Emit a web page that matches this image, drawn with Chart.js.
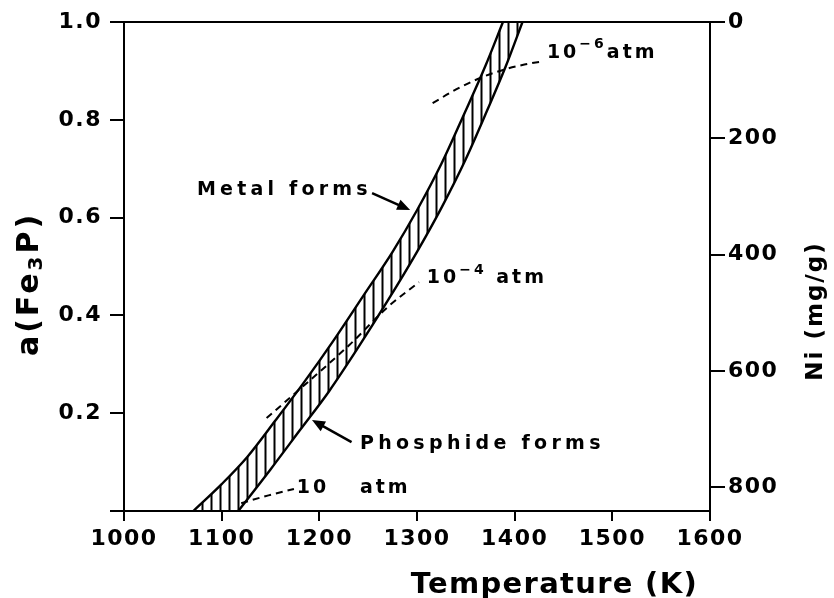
<!DOCTYPE html>
<html>
<head>
<meta charset="utf-8">
<script src="https://cdn.jsdelivr.net/npm/chart.js@4.4.1/dist/chart.umd.min.js"></script>
<style>
  html, body { margin: 0; padding: 0; background: #fff; }
  #wrap { width: 834px; height: 598px; position: relative; }
</style>
</head>
<body>
<div id="wrap"><canvas id="fe3pChart"></canvas></div>
<script>
// left edge of the hatched band (metal forms)
const metalT = [1071, 1100, 1126, 1155, 1185, 1215, 1245, 1275, 1300, 1325, 1349, 1370, 1388];
const metalA = [0, 0.055, 0.11, 0.185, 0.265, 0.35, 0.44, 0.53, 0.615, 0.71, 0.815, 0.91, 1.0];
// right edge of the band (phosphide forms)
const phosT = [1117, 1150, 1180, 1210, 1240, 1270, 1300, 1325, 1350, 1372, 1391, 1408];
const phosA = [0, 0.085, 0.165, 0.245, 0.335, 0.43, 0.53, 0.62, 0.72, 0.82, 0.91, 1.0];
// dashed pressure lines
const p10T = [1120, 1148, 1174];
const p10A = [0.016, 0.032, 0.045];
const p4T = [1146, 1173, 1231, 1270, 1302];
const p4A = [0.19, 0.237, 0.34, 0.417, 0.468];
const p6T = [1316, 1340, 1364, 1388, 1410, 1430];
const p6A = [0.834, 0.862, 0.885, 0.902, 0.913, 0.92];

const tempTicks = [1000, 1100, 1200, 1300, 1400, 1500, 1600];
const actTicks = [0, 0.2, 0.4, 0.6, 0.8, 1.0];
const niTicks = [0, 200, 400, 600, 800];
const niMax = 841;

const FONT = '"DejaVu Sans", sans-serif';

function pts(xs, ys) {
    return xs.map((x, i) => ({ x: x, y: ys[i] }));
}

function hatchPattern() {
    const c = document.createElement('canvas');
    c.width = 9; c.height = 9;
    const g = c.getContext('2d');
    g.strokeStyle = '#000';
    g.lineWidth = 2;
    g.beginPath(); g.moveTo(4.5, 0); g.lineTo(4.5, 9); g.stroke();
    return g.createPattern(c, 'repeat');
}

// draw text pieces one after another: [text, size, dy]
function runs(ctx, x, y, parts, spacing) {
    ctx.letterSpacing = spacing + 'px';
    parts.forEach(function(p) {
        ctx.font = 'bold ' + p[1] + 'px ' + FONT;
        ctx.fillText(p[0], x, y + p[2]);
        x += ctx.measureText(p[0]).width;
    });
}

function runsWidth(ctx, parts, spacing) {
    ctx.letterSpacing = spacing + 'px';
    let w = 0;
    parts.forEach(function(p) {
        ctx.font = 'bold ' + p[1] + 'px ' + FONT;
        w += ctx.measureText(p[0]).width;
    });
    return w;
}

function arrow(ctx, x0, y0, x1, y1) {
    const ang = Math.atan2(y1 - y0, x1 - x0), h = 13, w = 5.5;
    const c = Math.cos(ang), s = Math.sin(ang);
    ctx.beginPath();
    ctx.moveTo(x0, y0);
    ctx.lineTo(x1 - h * 0.8 * c, y1 - h * 0.8 * s);
    ctx.stroke();
    ctx.beginPath();
    ctx.moveTo(x1, y1);
    ctx.lineTo(x1 - h * c + w * s, y1 - h * s - w * c);
    ctx.lineTo(x1 - h * c - w * s, y1 - h * s + w * c);
    ctx.closePath();
    ctx.fill();
}

const annotate = {
    id: 'annotate',
    beforeDraw(chart) {
        chart.ctx.letterSpacing = '1.5px';
    },
    afterDraw(chart) {
        const ctx = chart.ctx, a = chart.chartArea;
        const X = v => chart.scales.x.getPixelForValue(v);
        const Y = v => chart.scales.y.getPixelForValue(v);
        ctx.save();
        ctx.strokeStyle = '#000';
        ctx.fillStyle = '#000';

        // top of the frame
        ctx.lineWidth = 2;
        ctx.beginPath(); ctx.moveTo(a.left, a.top); ctx.lineTo(a.right, a.top); ctx.stroke();

        // labels inside the plot
        ctx.textAlign = 'left';
        ctx.textBaseline = 'middle';
        runs(ctx, X(1074.7), Y(0.656), [['Metal forms', 19, 0]], 4.2);
        runs(ctx, X(1241.6), Y(0.137), [['Phosphide forms', 19, 0]], 4.3);
        runs(ctx, X(1310), Y(0.476), [['10', 19, 0], ['\u2212', 14, -8], ['4', 14, -8], [' atm', 19, 0]], 3);
        runs(ctx, X(1433), Y(0.937), [['10', 19, 0], ['\u2212', 14, -8], ['6', 14, -8], ['atm', 19, 0]], 3);
        runs(ctx, X(1177), Y(0.047), [['10', 19, 0]], 3);
        runs(ctx, X(1241.6), Y(0.047), [['atm', 19, 0]], 3);

        ctx.lineWidth = 2.5;
        arrow(ctx, X(1254), Y(0.65), X(1293), Y(0.6155));
        arrow(ctx, X(1233), Y(0.141), X(1192.5), Y(0.186));

        // axis titles
        ctx.textBaseline = 'alphabetic';
        ctx.textAlign = 'right';
        runs(ctx, a.right - 12, a.bottom + 82, [['Temperature (K)', 29, 0]], 1.3);

        ctx.textAlign = 'left';
        ctx.textBaseline = 'middle';
        const left = [['a(Fe', 30, 0], ['3', 20, 7], ['P)', 30, 0]];
        ctx.save();
        ctx.translate(30, 284);
        ctx.rotate(-Math.PI / 2);
        runs(ctx, -runsWidth(ctx, left, 3) / 2, 0, left, 3);
        ctx.restore();

        const right = [['Ni (mg/g)', 23, 0]];
        ctx.save();
        ctx.translate(816, 311);
        ctx.rotate(-Math.PI / 2);
        runs(ctx, -runsWidth(ctx, right, 2) / 2, 0, right, 2);
        ctx.restore();

        ctx.restore();
    }
};

document.addEventListener('DOMContentLoaded', function() {
    const band = pts(metalT, metalA).concat(pts(phosT, phosA).reverse());
    const lineStyle = {
        showLine: true, pointRadius: 0, borderColor: '#000', borderWidth: 2.4,
        fill: false, cubicInterpolationMode: 'monotone', order: 0
    };
    const dashStyle = Object.assign({}, lineStyle, { borderWidth: 2, borderDash: [7, 5] });
    const tickFont = { family: FONT, weight: 'bold', size: 22 };

    const ctx = document.getElementById('fe3pChart').getContext('2d');
    new Chart(ctx, {
        type: 'scatter',
        data: {
            datasets: [
                { label: 'band', data: band, showLine: true, pointRadius: 0, borderWidth: 0,
                  tension: 0, fill: 'shape', backgroundColor: hatchPattern(), order: 5 },
                Object.assign({ label: 'Metal forms', data: pts(metalT, metalA) }, lineStyle),
                Object.assign({ label: 'Phosphide forms', data: pts(phosT, phosA) }, lineStyle),
                Object.assign({ label: '10 atm', data: pts(p10T, p10A) }, dashStyle),
                Object.assign({ label: '1e-4 atm', data: pts(p4T, p4A) }, dashStyle),
                Object.assign({ label: '1e-6 atm', data: pts(p6T, p6A) }, dashStyle)
            ]
        },
        options: {
            responsive: true,
            maintainAspectRatio: false,
            animation: false,
            layout: { padding: { top: 22, left: 0, right: 0, bottom: 0 } },
            plugins: {
                legend: { display: false },
                tooltip: { enabled: false }
            },
            scales: {
                x: {
                    type: 'linear', min: 1000, max: 1600,
                    afterBuildTicks: s => { s.ticks = tempTicks.map(v => ({ value: v })); },
                    afterFit: s => { s.height = 87; },
                    border: { color: '#000', width: 2 },
                    grid: { drawOnChartArea: false, color: '#000', lineWidth: 2, tickLength: 10 },
                    ticks: { color: '#000', font: tickFont, padding: 5, maxRotation: 0,
                             callback: v => String(v) }
                },
                y: {
                    type: 'linear', position: 'left', min: 0, max: 1,
                    afterBuildTicks: s => { s.ticks = actTicks.map(v => ({ value: v })); },
                    afterFit: s => { s.width = 124; },
                    border: { color: '#000', width: 2 },
                    grid: { drawOnChartArea: false, color: '#000', lineWidth: 2, tickLength: 14 },
                    ticks: {
                        color: '#000', font: tickFont, padding: 8,
                        callback: v => v === 0 ? '' : v.toFixed(1)
                    }
                },
                y2: {
                    type: 'linear', position: 'right', min: 0, max: niMax, reverse: true,
                    afterBuildTicks: s => { s.ticks = niTicks.map(v => ({ value: v })); },
                    afterFit: s => { s.width = 124; },
                    border: { color: '#000', width: 2 },
                    grid: { drawOnChartArea: false, color: '#000', lineWidth: 2, tickLength: 15 },
                    ticks: { color: '#000', font: tickFont, padding: 3, callback: v => String(v) }
                }
            }
        },
        plugins: [annotate]
    });
});
</script>
</body>
</html>
